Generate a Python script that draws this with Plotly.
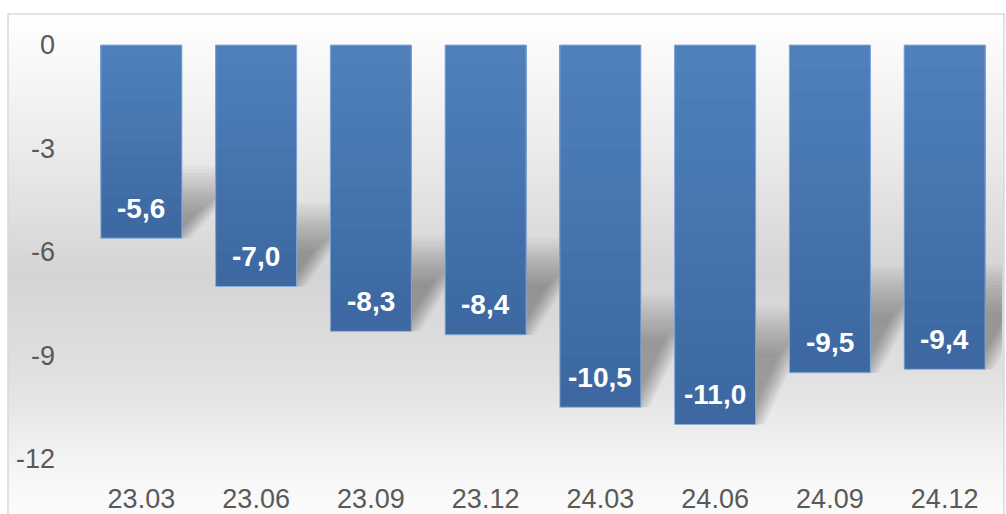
import plotly.graph_objects as go

# Quarterly values
periods = ["23.03", "23.06", "23.09", "23.12", "24.03", "24.06", "24.09", "24.12"]
values = [-5.6, -7.0, -8.3, -8.4, -10.5, -11.0, -9.5, -9.4]
y_ticks = [0, -3, -6, -9, -12]

W, H = 1006, 514
M_L, M_R, M_T, M_B = 84, 4, 14, 34
Y_RANGE = [-12.609, 0.899]
X_RANGE = [-0.5, len(periods) - 0.5]
BAR_FRAC = 0.706

plot_w = W - M_L - M_R
plot_h = H - M_T - M_B
px_per_x = plot_w / (X_RANGE[1] - X_RANGE[0])
px_per_y = plot_h / (Y_RANGE[1] - Y_RANGE[0])

FONT = "Liberation Sans, Arial, sans-serif"
TICK_COLOR = "#595959"


def mix(c1, c2, t):
    return tuple(round(a + (b - a) * t) for a, b in zip(c1, c2))


def rgb(c):
    return "rgb(%d,%d,%d)" % c


def to_paper_x(px):
    return (px - M_L) / plot_w


def to_paper_y(py):
    return (H - M_B - py) / plot_h


fig = go.Figure()

# Bars drawn as overlaid layers, shortest (lightest) on top, for a vertical shade
TOP_C = (80, 130, 190)
BOT_C = (61, 104, 161)
N_LAYERS = 14
x_idx = list(range(len(periods)))
for k in range(N_LAYERS):
    frac = 1 - k / N_LAYERS
    fig.add_trace(go.Bar(
        x=x_idx,
        y=[v * frac for v in values],
        width=BAR_FRAC,
        marker=dict(color=rgb(mix(TOP_C, BOT_C, frac)), line=dict(width=0)),
        hoverinfo="skip",
        showlegend=False,
    ))
# thin light outline on the full bars
fig.add_trace(go.Bar(
    x=x_idx,
    y=values,
    width=BAR_FRAC,
    marker=dict(color="rgba(0,0,0,0)", line=dict(color="rgba(140,175,220,0.9)", width=1)),
    hovertemplate="%{y}<extra></extra>",
    showlegend=False,
))

shapes = []

# Chart-area background: white at the top, grey through the middle, light at the bottom
stops = [(14, 255), (150, 235), (275, 212), (385, 226), (470, 245), (520, 252)]


def grey_at(py):
    for (y0, g0), (y1, g1) in zip(stops, stops[1:]):
        if py <= y1:
            t = (py - y0) / (y1 - y0)
            return g0 + (g1 - g0) * max(0.0, t)
    return stops[-1][1]


STEP = 4
for py in range(14, 520, STEP):
    g = round(grey_at(py + STEP / 2))
    shapes.append(dict(
        type="rect", xref="paper", yref="paper", layer="below",
        x0=to_paper_x(8), x1=to_paper_x(1004),
        y0=to_paper_y(py + STEP + 0.5), y1=to_paper_y(py),
        fillcolor=rgb((g, g, g)), line=dict(width=0),
    ))

# Soft perspective shadow behind each bar: a short skewed copy of the bar
# standing on its lower end, leaning to the right; softened by stacking
# translucent copies. The top edge is spread wide, the slanted edge tight.
half = BAR_FRAC / 2
SHADOW_SCALE = 0.25    # shadow height relative to the bar length
SHADOW_RUN = 44        # horizontal lean of the shadow top, px
N_SOFT = 15
SOFT = [-1 + 2 * k / (N_SOFT - 1) for k in range(N_SOFT)]
TOP_SPREAD = 24
EDGE_SPREAD = 9
for i, v in enumerate(values):
    cx = i + half
    cy = v
    bar_len_px = abs(v) * px_per_y
    sh = SHADOW_SCALE * bar_len_px
    for s in SOFT:
        top = sh + s * TOP_SPREAD
        ed = s * EDGE_SPREAD
        pts_px = [
            (-8, 0.0),
            (ed, 0.0),
            (ed + SHADOW_RUN * top / sh, top),
            (-8, top),
        ]
        pts = [(cx + dx / px_per_x, cy + dy / px_per_y) for dx, dy in pts_px]
        path = "M " + " L ".join("%.4f,%.4f" % p for p in pts) + " Z"
        shapes.append(dict(
            type="path", xref="x", yref="y", layer="below", path=path,
            fillcolor="rgba(25,25,25,0.027)", line=dict(width=0),
        ))

# Chart-area border
shapes.append(dict(
    type="rect", xref="paper", yref="paper", layer="above",
    x0=to_paper_x(8), x1=to_paper_x(1004), y0=to_paper_y(530), y1=to_paper_y(14),
    fillcolor="rgba(0,0,0,0)", line=dict(color="#d9d9d9", width=1.5),
))

# Value labels inside the bar ends
annotations = []
for i, v in enumerate(values):
    annotations.append(dict(
        x=i, y=v, xref="x", yref="y", yshift=30,
        text=("%.1f" % v).replace(".", ","),
        showarrow=False,
        font=dict(family=FONT, size=28, color="white", weight="bold"),
    ))

fig.update_layout(
    width=W, height=H,
    margin=dict(l=M_L, r=M_R, t=M_T, b=M_B, autoexpand=False),
    barmode="overlay",
    paper_bgcolor="white",
    plot_bgcolor="rgba(0,0,0,0)",
    shapes=shapes,
    annotations=annotations,
    font=dict(family=FONT, size=27, color=TICK_COLOR),
    xaxis=dict(
        range=X_RANGE, tickmode="array", tickvals=x_idx, ticktext=periods,
        showgrid=False, zeroline=False, showline=False, ticks="",
        ticklabelstandoff=0, automargin=False, fixedrange=True,
    ),
    yaxis=dict(
        range=Y_RANGE, tickmode="array", tickvals=y_ticks,
        ticktext=[str(t) for t in y_ticks],
        showgrid=False, zeroline=False, showline=False, ticks="",
        ticklabelstandoff=28, automargin=False, fixedrange=True,
    ),
)

fig.write_html("out.html")
